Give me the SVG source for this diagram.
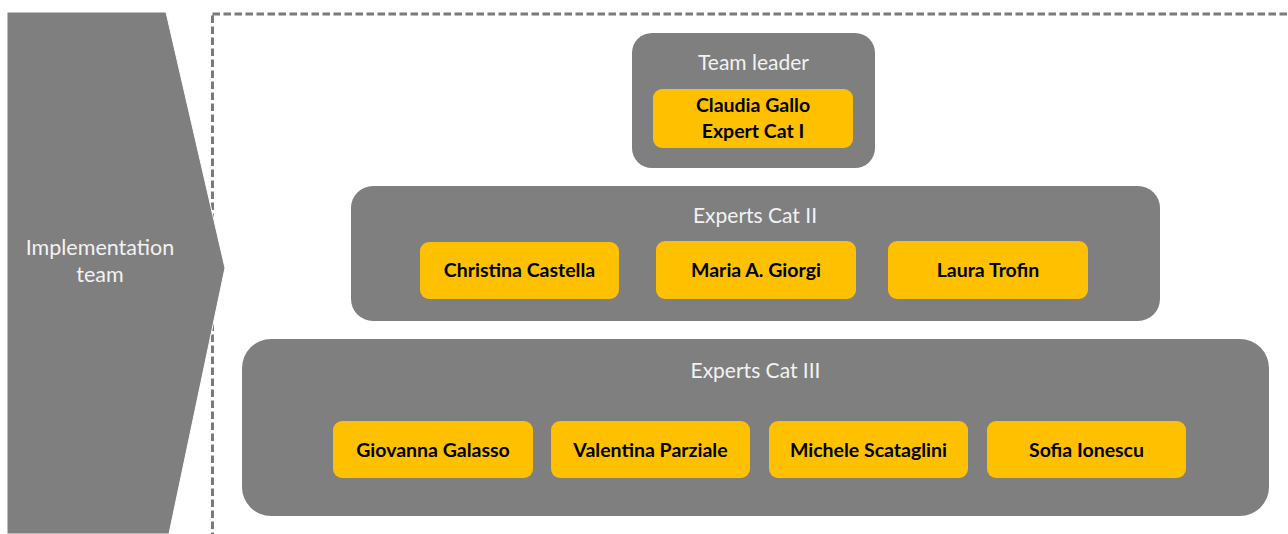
<svg xmlns="http://www.w3.org/2000/svg" width="1288" height="534" viewBox="0 0 1288 534">
<style>
.grp{fill:#7f7f7f}
.card{fill:#ffc000}
.hdr{font-family:Lato,"Open Sans","Liberation Sans",sans-serif;font-size:21px;fill:#f2f2f2;text-anchor:middle}
.name{font-family:Lato,"Open Sans","Liberation Sans",sans-serif;font-size:19.5px;font-weight:bold;fill:#000;text-anchor:middle}
</style>
<rect width="1288" height="534" fill="#ffffff"/>
<rect x="212.5" y="14" width="1100" height="560" fill="none" stroke="#7a7a7a" stroke-width="3" stroke-dasharray="7.5 3.5"/>
<g id="implementation-team">
<polygon points="7,12 166,12 225,268 169,534 7,534" class="grp" stroke="#ffffff" stroke-width="1"/>
<text class="hdr" x="100" y="255" style="font-size:21.5px">Implementation</text>
<text class="hdr" x="100" y="282" style="font-size:21.5px">team</text>
</g>
<g id="team-leader">
<rect x="632" y="33" width="243" height="135" rx="20" class="grp"/>
<text class="hdr" x="753.5" y="70">Team leader</text>
<rect x="653" y="89" width="200" height="59" rx="9" class="card"/>
<text class="name" x="753" y="112">Claudia Gallo</text>
<text class="name" x="753" y="138">Expert Cat I</text>
</g>
<g id="experts-cat-ii">
<rect x="351" y="186" width="809" height="135" rx="22" class="grp"/>
<text class="hdr" x="755" y="223">Experts Cat II</text>
</g>
<g id="christina-castella">
<rect x="420" y="242" width="199" height="57" rx="9" class="card"/>
<text class="name" x="519.5" y="277">Christina Castella</text>
</g>
<g id="maria-giorgi">
<rect x="656" y="241" width="200" height="58" rx="9" class="card"/>
<text class="name" x="756" y="277">Maria A. Giorgi</text>
</g>
<g id="laura-trofin">
<rect x="888" y="241" width="200" height="58" rx="9" class="card"/>
<text class="name" x="988" y="277">Laura Trofin</text>
</g>
<g id="experts-cat-iii">
<rect x="242" y="339" width="1027" height="177" rx="29" class="grp"/>
<text class="hdr" x="755.5" y="378">Experts Cat III</text>
</g>
<g id="giovanna-galasso">
<rect x="333" y="421" width="200" height="57" rx="9" class="card"/>
<text class="name" x="433" y="457">Giovanna Galasso</text>
</g>
<g id="valentina-parziale">
<rect x="551" y="421" width="199" height="57" rx="9" class="card"/>
<text class="name" x="650.5" y="457">Valentina Parziale</text>
</g>
<g id="michele-scataglini">
<rect x="769" y="421" width="199" height="57" rx="9" class="card"/>
<text class="name" x="868.5" y="457">Michele Scataglini</text>
</g>
<g id="sofia-ionescu">
<rect x="987" y="421" width="199" height="57" rx="9" class="card"/>
<text class="name" x="1086.5" y="457">Sofia Ionescu</text>
</g>
<g id="connectors"/>
</svg>
